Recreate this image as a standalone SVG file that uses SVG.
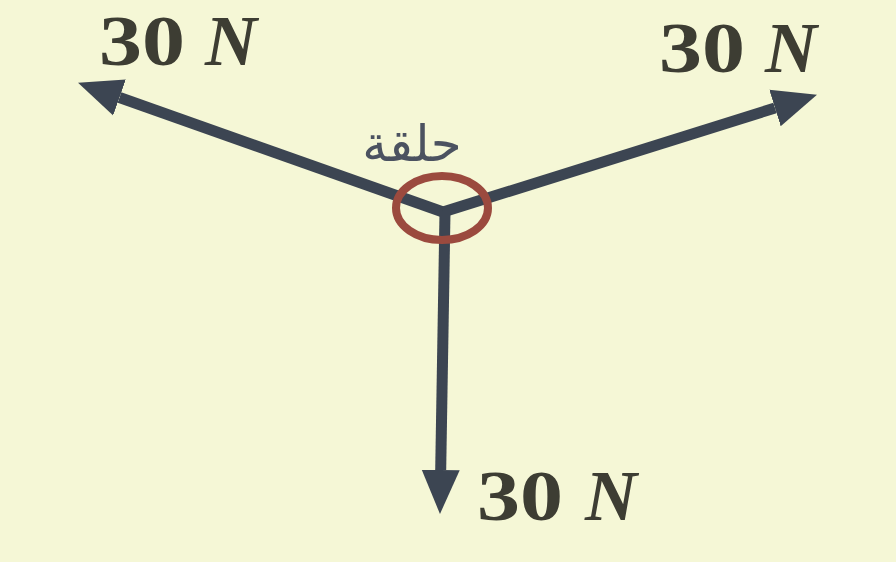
<svg xmlns="http://www.w3.org/2000/svg" width="896" height="562" viewBox="0 0 896 562">
<defs>
<style>
.force{stroke:#3c4552;stroke-width:11;fill:none;marker-end:url(#head)}
.lbl{font-family:"Liberation Serif","DejaVu Serif",serif;font-weight:bold;font-size:72px;fill:#3d3d33}
.lbl .u{font-style:italic}
.ring{fill:none;stroke:#9b4a3e;stroke-width:8}
.ar{font-family:"DejaVu Sans","Noto Sans",sans-serif;font-size:50px;fill:#4b5260}
</style>
<marker id="head" markerUnits="userSpaceOnUse" viewBox="0 -21 46 42" refX="0" refY="0" markerWidth="46" markerHeight="42" orient="auto">
<path d="M0,-19 L44,0 L0,19 Z" fill="#3c4552"/>
</marker>
</defs>
<rect width="896" height="562" fill="#f5f7d6"/>
<g id="connectors">
<line class="force" x1="443" y1="212" x2="119.5" y2="97.5"/>
<line class="force" x1="443" y1="212" x2="775" y2="108"/>
<line class="force" x1="445" y1="212" x2="440.7" y2="470"/>
</g>
<g id="ring">
<ellipse class="ring" cx="442" cy="208" rx="46" ry="32"/>
<text class="ar" x="412" y="161" text-anchor="middle">حلقة</text>
</g>
<g id="force-left">
<text class="lbl" y="65"><tspan x="99" textLength="86" lengthAdjust="spacingAndGlyphs">30</tspan><tspan class="u" x="205">N</tspan></text>
</g>
<g id="force-right">
<text class="lbl" y="72"><tspan x="659" textLength="86" lengthAdjust="spacingAndGlyphs">30</tspan><tspan class="u" x="765">N</tspan></text>
</g>
<g id="force-down">
<text class="lbl" y="520"><tspan x="477" textLength="86" lengthAdjust="spacingAndGlyphs">30</tspan><tspan class="u" x="585">N</tspan></text>
</g>
</svg>
